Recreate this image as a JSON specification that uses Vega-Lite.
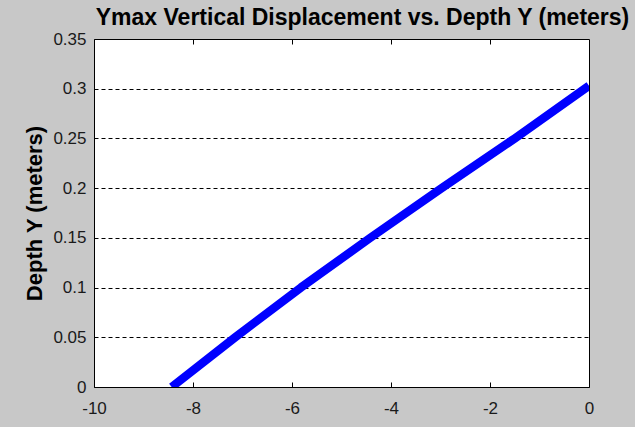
{
  "$schema": "https://vega.github.io/schema/vega-lite/v6.json",
  "autosize": "none",
  "width": 495,
  "height": 348,
  "padding": {"left": 94, "top": 39, "right": 46, "bottom": 40},
  "background": "#c8c8c8",
  "config": {
    "font": "Liberation Sans",
    "view": {"fill": "white", "stroke": "black", "strokeWidth": 1}
  },
  "title": {
    "text": "Ymax Vertical Displacement vs. Depth Y (meters)",
    "font": "Liberation Sans",
    "fontSize": 23,
    "fontWeight": "bold",
    "color": "black",
    "anchor": "middle",
    "offset": 0,
    "dx": 21
  },
  "data": {
    "values": [
      {"x": -8.43, "depth": 0.0},
      {"x": -7.15, "depth": 0.05},
      {"x": -5.82, "depth": 0.1},
      {"x": -4.42, "depth": 0.15},
      {"x": -2.98, "depth": 0.2},
      {"x": -1.5, "depth": 0.25},
      {"x": 0.0, "depth": 0.303}
    ]
  },
  "encoding": {
    "y": {
      "field": "depth",
      "type": "quantitative",
      "scale": {"domain": [0, 0.35], "nice": false, "zero": false},
      "axis": {
        "title": "Depth Y (meters)",
        "titleFont": "Liberation Sans",
        "titleFontSize": 22,
        "titleFontWeight": "bold",
        "titleColor": "black",
        "titlePadding": 6,
        "values": [0, 0.05, 0.1, 0.15, 0.2, 0.25, 0.3, 0.35],
        "labelExpr": "'' + datum.value",
        "labelFont": "Liberation Sans",
        "labelFontSize": 17,
        "labelColor": "#1a1a1a",
        "labelPadding": 8,
        "labelFlush": false,
        "labelOverlap": false,
        "ticks": false,
        "domain": false,
        "grid": true,
        "gridColor": "black",
        "gridOpacity": 1,
        "gridDash": [4, 3],
        "gridWidth": 1
      }
    }
  },
  "layer": [
    {
      "mark": {"type": "line", "color": "#0000ff", "strokeWidth": 8.5, "strokeJoin": "round", "clip": true},
      "encoding": {
        "x": {
          "field": "x",
          "type": "quantitative",
          "scale": {"domain": [-10, 0], "nice": false, "zero": false},
          "axis": {
            "orient": "bottom",
            "title": null,
            "values": [-10, -8, -6, -4, -2, 0],
            "labelExpr": "datum.value < 0 ? '-' + abs(datum.value) : '' + datum.value",
            "labelFont": "Liberation Sans",
            "labelFontSize": 17,
            "labelColor": "#1a1a1a",
            "labelFlush": false,
            "labelOverlap": false,
            "labelPadding": 18,
            "ticks": true,
            "tickSize": -5,
            "tickColor": "black",
            "domain": false,
            "grid": false
          }
        }
      }
    },
    {
      "mark": {"type": "line", "strokeOpacity": 0},
      "encoding": {
        "x": {
          "field": "x",
          "type": "quantitative",
          "axis": {
            "orient": "top",
            "title": null,
            "values": [-8, -6, -4, -2],
            "labels": false,
            "ticks": true,
            "tickSize": -5,
            "tickColor": "black",
            "domain": false,
            "grid": false
          }
        }
      }
    }
  ],
  "resolve": {"axis": {"x": "independent"}}
}
